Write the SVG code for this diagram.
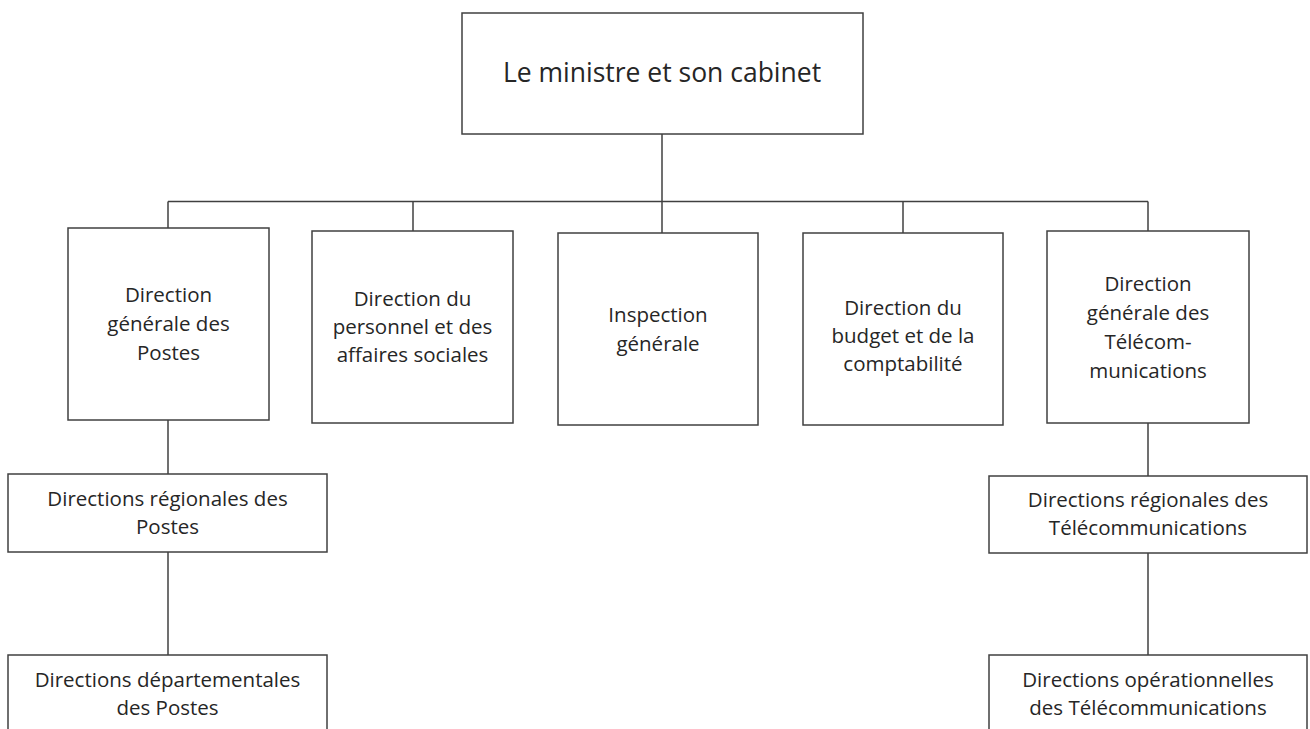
<svg xmlns="http://www.w3.org/2000/svg" width="1310" height="729" viewBox="0 0 1310 729">
<style>
.box{fill:#ffffff;stroke:#404040;stroke-width:1.5}
.ln{stroke:#404040;stroke-width:1.5;fill:none}
text{font-family:"Open Sans","Liberation Sans",sans-serif;fill:#262626;text-anchor:middle}
.t{font-size:20.5px}
.h{font-size:26.5px}
</style>
<rect width="1310" height="729" fill="#ffffff"/>
<g id="connectors">
<path class="ln" d="M662 134V233"/>
<path class="ln" d="M168 201.5H1148"/>
<path class="ln" d="M168 201.5V228"/>
<path class="ln" d="M413 201.5V231"/>
<path class="ln" d="M903 201.5V233"/>
<path class="ln" d="M1148 201.5V231"/>
<path class="ln" d="M168 420V474"/>
<path class="ln" d="M168 552V655"/>
<path class="ln" d="M1148 423V476"/>
<path class="ln" d="M1148 553V655"/>
</g>
<g id="ministre">
<rect class="box" x="462" y="13" width="401" height="121"/>
<text class="h" x="662" y="82">Le ministre et son cabinet</text>
</g>
<g id="dg-postes">
<rect class="box" x="68" y="228" width="201" height="192"/>
<text class="t" x="168.5" y="302">Direction</text>
<text class="t" x="168.5" y="331">générale des</text>
<text class="t" x="168.5" y="360">Postes</text>
</g>
<g id="dir-personnel">
<rect class="box" x="312" y="231" width="201" height="192"/>
<text class="t" x="412.5" y="306">Direction du</text>
<text class="t" x="412.5" y="334">personnel et des</text>
<text class="t" x="412.5" y="362">affaires sociales</text>
</g>
<g id="inspection">
<rect class="box" x="558" y="233" width="200" height="192"/>
<text class="t" x="658" y="322">Inspection</text>
<text class="t" x="658" y="351">générale</text>
</g>
<g id="dir-budget">
<rect class="box" x="803" y="233" width="200" height="192"/>
<text class="t" x="903" y="315">Direction du</text>
<text class="t" x="903" y="343">budget et de la</text>
<text class="t" x="903" y="371">comptabilité</text>
</g>
<g id="dg-telecom">
<rect class="box" x="1047" y="231" width="202" height="192"/>
<text class="t" x="1148" y="291">Direction</text>
<text class="t" x="1148" y="320">générale des</text>
<text class="t" x="1148" y="349">Télécom-</text>
<text class="t" x="1148" y="378">munications</text>
</g>
<g id="dr-postes">
<rect class="box" x="8" y="474" width="319" height="78"/>
<text class="t" x="167.5" y="506">Directions régionales des</text>
<text class="t" x="167.5" y="534">Postes</text>
</g>
<g id="dd-postes">
<rect class="box" x="8" y="655" width="319" height="90"/>
<text class="t" x="167.5" y="687">Directions départementales</text>
<text class="t" x="167.5" y="715">des Postes</text>
</g>
<g id="dr-telecom">
<rect class="box" x="989" y="476" width="318" height="77"/>
<text class="t" x="1148" y="507">Directions régionales des</text>
<text class="t" x="1148" y="535">Télécommunications</text>
</g>
<g id="do-telecom">
<rect class="box" x="989" y="655" width="318" height="90"/>
<text class="t" x="1148" y="687">Directions opérationnelles</text>
<text class="t" x="1148" y="715">des Télécommunications</text>
</g>
</svg>
